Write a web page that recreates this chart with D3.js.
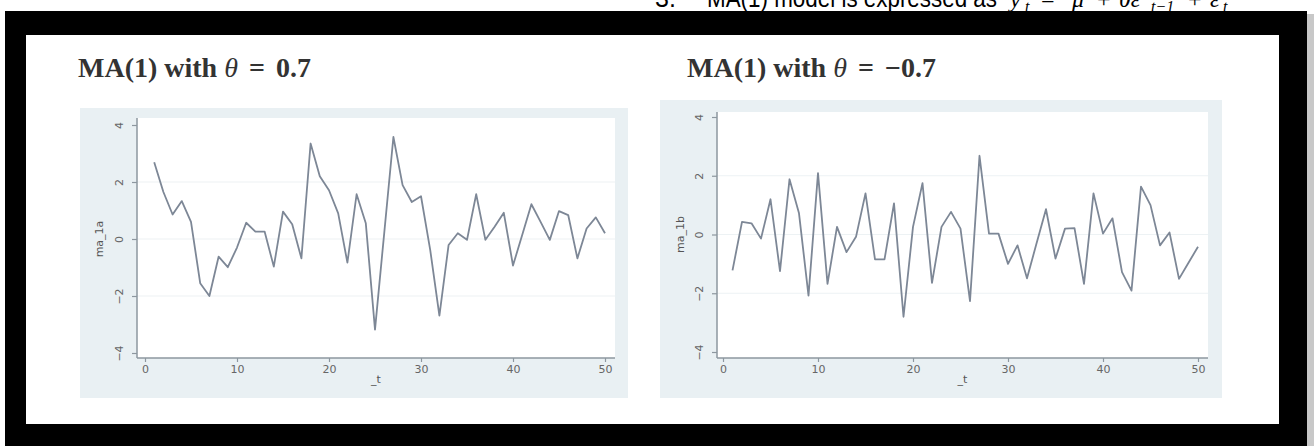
<!DOCTYPE html>
<html>
<head>
<meta charset="utf-8">
<script src="https://cdn.jsdelivr.net/npm/d3@7"></script>
<style>
  html, body { margin: 0; padding: 0; background: #fff; }
  svg { display: block; }
</style>
</head>
<body>
<svg id="chart" width="1314" height="446"></svg>
<script>
'use strict'

// time index shared by both panels
var tIndex = [1, 2, 3, 4, 5, 6, 7, 8, 9, 10, 11, 12, 13, 14, 15, 16, 17, 18, 19, 20,
  21, 22, 23, 24, 25, 26, 27, 28, 29, 30, 31, 32, 33, 34, 35, 36, 37, 38, 39, 40,
  41, 42, 43, 44, 45, 46, 47, 48, 49, 50];

// ma_1a, theta = 0.7
var ma1a = [2.69, 1.65, 0.86, 1.33, 0.6, -1.55, -2.0, -0.62, -0.99, -0.3,
  0.57, 0.26, 0.26, -0.97, 0.96, 0.52, -0.68, 3.35, 2.2, 1.71,
  0.9, -0.83, 1.57, 0.55, -3.18, 0.2, 3.58, 1.89, 1.3, 1.5,
  -0.38, -2.69, -0.21, 0.2, -0.03, 1.57, -0.03, 0.43, 0.92, -0.93,
  0.14, 1.22, 0.6, -0.03, 0.98, 0.84, -0.68, 0.37, 0.76, 0.2];

// ma_1b, theta = -0.7
var ma1b = [-1.22, 0.43, 0.38, -0.14, 1.2, -1.25, 1.88, 0.72, -2.08, 2.09,
  -1.68, 0.26, -0.6, -0.08, 1.4, -0.85, -0.85, 1.06, -2.8, 0.26,
  1.75, -1.65, 0.26, 0.77, 0.2, -2.27, 2.68, 0.03, 0.03, -1.0,
  -0.37, -1.49, -0.31, 0.86, -0.82, 0.2, 0.22, -1.68, 1.4, 0.03,
  0.55, -1.28, -1.91, 1.63, 1.0, -0.37, 0.07, -1.51, -0.96, -0.42];

var xTicks = [0, 10, 20, 30, 40, 50];
var yTicks = [-4, -2, 0, 2, 4];
var gridTicks = [-2, 0, 2];

var svg = d3.select('#chart');
var serif = 'Liberation Serif, Times New Roman, serif';

// heading of the slide, cut off at the top
svg.append('text')
    .attr('x', 655).attr('y', 7)
    .style('font-family', 'Liberation Sans, Arial, sans-serif')
    .style('font-size', '25px')
    .text('3.');
svg.append('text')
    .attr('x', 707).attr('y', 7)
    .attr('textLength', 290).attr('lengthAdjust', 'spacingAndGlyphs')
    .style('font-family', 'Liberation Sans, Arial, sans-serif')
    .style('font-size', '25px')
    .text('MA(1) model is expressed as');

// equation pieces: [text, x, italic, subscript]
var eqParts = [
  ['y', 1010, true, false], ['t', 1025, true, true],
  ['=', 1041, false, false], ['μ', 1072, true, false],
  ['+', 1097, false, false], ['θε', 1119, true, false],
  ['t−1', 1151, true, true], ['+', 1188, false, false],
  ['ε', 1210, true, false], ['t', 1223, true, true]
];
svg.selectAll('text.eq')
    .data(eqParts)
    .enter().append('text')
    .attr('class', 'eq')
    .attr('x', function(d) { return d[1]; })
    .attr('y', function(d) { return d[3] ? 12 : 7; })
    .style('font-family', serif)
    .style('font-size', function(d) { return d[3] ? '16px' : '24px'; })
    .style('font-style', function(d) { return d[2] ? 'italic' : 'normal'; })
    .text(function(d) { return d[0]; });

// black frame with soft shadow on the right
svg.append('rect').attr('x', 1307).attr('y', 14).attr('width', 7).attr('height', 432).style('fill', '#c8c8c8');
svg.append('rect').attr('x', 5).attr('y', 11).attr('width', 1302).attr('height', 435).style('fill', '#000');
svg.append('rect').attr('x', 26).attr('y', 35).attr('width', 1253).attr('height', 389).style('fill', '#fff');

function drawPanel(cfg) {
  var g = svg.append('g');

  // graph region
  g.append('rect')
      .attr('x', cfg.bg[0]).attr('y', cfg.bg[1])
      .attr('width', cfg.bg[2]).attr('height', cfg.bg[3])
      .style('fill', '#e9f0f3');
  // plot region
  g.append('rect')
      .attr('x', cfg.plot[0]).attr('y', cfg.plot[1])
      .attr('width', cfg.plot[2] - cfg.plot[0]).attr('height', cfg.plot[3] - cfg.plot[1])
      .style('fill', '#fff');

  var x = d3.scaleLinear().domain([0, 50]).range(cfg.xRange);
  var y = d3.scaleLinear().domain([-4, 4]).range(cfg.yRange);

  g.selectAll('line.grid')
      .data(gridTicks)
      .enter().append('line')
      .attr('class', 'grid')
      .attr('x1', cfg.plot[0]).attr('x2', cfg.plot[2])
      .attr('y1', function(d) { return y(d); })
      .attr('y2', function(d) { return y(d); })
      .style('stroke', '#edf2f4')
      .style('stroke-width', 1.2);

  // axis lines span the plot region
  g.append('line')
      .attr('x1', cfg.plot[0]).attr('x2', cfg.plot[0])
      .attr('y1', cfg.plot[1]).attr('y2', cfg.plot[3])
      .style('stroke', '#8d979f').style('stroke-width', 1.5);
  g.append('line')
      .attr('x1', cfg.plot[0]).attr('x2', cfg.plot[2])
      .attr('y1', cfg.plot[3]).attr('y2', cfg.plot[3])
      .style('stroke', '#8d979f').style('stroke-width', 1.5);

  var yAxis = g.append('g')
      .attr('transform', 'translate(' + cfg.plot[0] + ',0)')
      .call(d3.axisLeft(y).tickValues(yTicks).tickSize(5).tickPadding(6));
  yAxis.select('.domain').remove();
  yAxis.selectAll('line').style('stroke', '#8d979f').style('stroke-width', 1.2);
  yAxis.selectAll('text')
      .attr('transform', 'rotate(-90,-18,0)')
      .attr('x', -18)
      .attr('dy', '0.32em')
      .style('text-anchor', 'middle');

  var xAxis = g.append('g')
      .attr('transform', 'translate(0,' + cfg.plot[3] + ')')
      .call(d3.axisBottom(x).tickValues(xTicks).tickSize(4).tickPadding(3));
  xAxis.select('.domain').remove();
  xAxis.selectAll('line').style('stroke', '#8d979f').style('stroke-width', 1.2);

  g.selectAll('.tick text')
      .style('font-family', 'DejaVu Sans, sans-serif')
      .style('font-size', '11px')
      .style('fill', '#666');

  g.append('text')
      .attr('transform', 'translate(' + cfg.yTitleX + ',' + y(0) + ') rotate(-90)')
      .style('text-anchor', 'middle')
      .style('font-family', 'DejaVu Sans, sans-serif')
      .style('font-size', '11px')
      .style('fill', '#555')
      .text(cfg.yTitle);
  g.append('text')
      .attr('x', (cfg.plot[0] + cfg.plot[2]) / 2)
      .attr('y', cfg.plot[3] + 25)
      .style('text-anchor', 'middle')
      .style('font-family', 'DejaVu Sans, sans-serif')
      .style('font-size', '11px')
      .style('fill', '#555')
      .text('_t');

  var line = d3.line()
      .x(function(d, i) { return x(tIndex[i]); })
      .y(function(d) { return y(d); });

  g.append('path')
      .datum(cfg.values)
      .attr('d', line)
      .style('fill', 'none')
      .style('stroke', '#7d8796')
      .style('stroke-width', 1.8)
      .style('stroke-linejoin', 'round');

  var title = g.append('text')
      .attr('x', cfg.titleX).attr('y', 77)
      .style('font-family', serif)
      .style('font-weight', 'bold')
      .style('font-size', '28px')
      .style('fill', '#333');
  title.append('tspan').text('MA(1) with ');
  title.append('tspan').style('font-style', 'italic').style('font-weight', 'normal').text('θ');
  title.append('tspan').attr('dx', 11).text('=');
  title.append('tspan').attr('dx', 11).text(cfg.theta);
}

drawPanel({
  bg: [80, 108, 548, 290],
  plot: [137, 118, 615, 358],
  xRange: [145, 605],
  yRange: [353, 125],
  yTitleX: 103,
  yTitle: 'ma_1a',
  values: ma1a,
  titleX: 78,
  theta: '0.7'
});

drawPanel({
  bg: [660, 100, 562, 298],
  plot: [717, 112, 1208, 358],
  xRange: [723, 1198],
  yRange: [352, 117],
  yTitleX: 684,
  yTitle: 'ma_1b',
  values: ma1b,
  titleX: 687,
  theta: '−0.7'
});
</script>
</body>
</html>
